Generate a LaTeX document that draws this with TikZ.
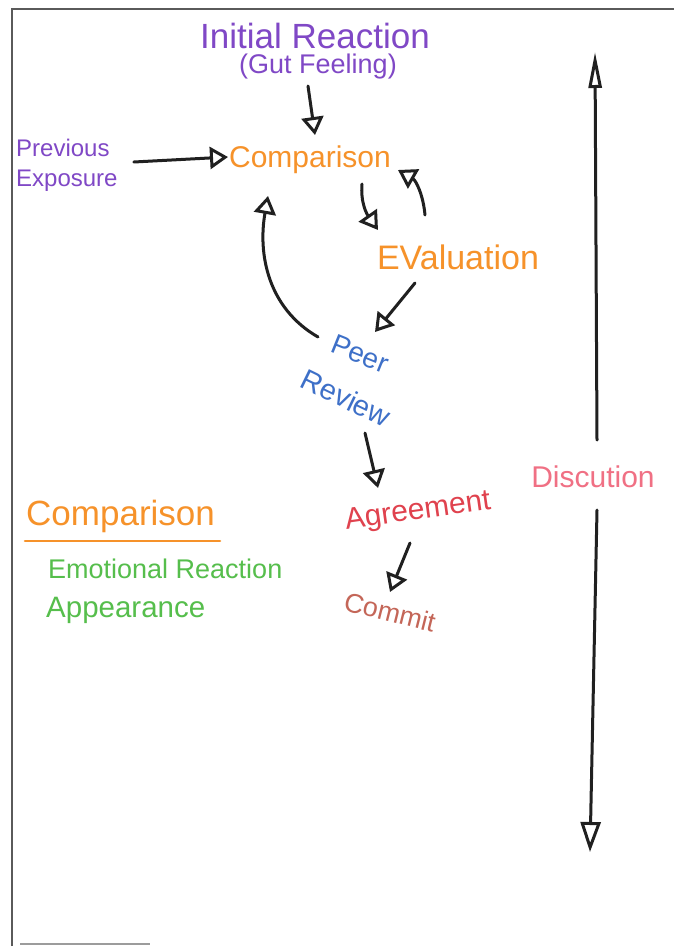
\documentclass[tikz,border=0pt]{standalone}
\usepackage{fontspec}
\setmainfont{Liberation Sans}
\usetikzlibrary{arrows.meta,calc}
\definecolor{inkc}{RGB}{32,32,32}
\definecolor{purplec}{RGB}{128,72,198}
\definecolor{orangec}{RGB}{246,146,42}
\definecolor{bluec}{RGB}{62,112,200}
\definecolor{redc}{RGB}{224,66,78}
\definecolor{brownc}{RGB}{196,102,88}
\definecolor{pinkc}{RGB}{240,112,132}
\definecolor{greenc}{RGB}{86,190,76}
\definecolor{framec}{RGB}{90,90,90}
\newcommand{\fsz}[2]{\fontsize{#1}{#2}\selectfont}
\begin{document}
\begin{tikzpicture}[x=1pt,y=-1pt,
  ink/.style={draw=inkc,line width=3pt,line cap=round,line join=round},
  tipped/.style={ink,-{Triangle[open,length=18pt,width=22pt]}},
  lbl/.style={inner sep=0pt,align=center},
]
\useasboundingbox (0,0) rectangle (674,948);
\fill[white] (0,0) rectangle (674,948);
% sheet edges
\draw[framec,line width=1.2pt] (12,946) -- (12,9) -- (674,9);
\draw[framec!60,line width=1.2pt] (20,944) -- (150,944);

% labels
\node[lbl,text=purplec,font=\fsz{35}{38}] (init) at (315,36) {Initial Reaction};
\node[lbl,text=purplec,font=\fsz{27}{30}] (gut) at (318,67) {(Gut Feeling)};
\node[lbl,text=purplec,align=left,anchor=west,font=\fsz{24}{30}] (prev) at (16,165)
  {Previous\\Exposure};
\node[lbl,text=orangec,font=\fsz{30}{32}] (cmp) at (310,160) {Comparison};
\node[lbl,text=orangec,font=\fsz{34}{36}] (eval) at (458,257) {EValuation};
\node[lbl,text=bluec,rotate=-22,font=\fsz{28}{30}] (peer) at (360,354) {Peer};
\node[lbl,text=bluec,rotate=-26,font=\fsz{29}{30}] (review) at (346,398) {Review};
\node[lbl,text=redc,font=\fsz{30}{32},rotate=8] (agr) at (418,512) {Agreement};
\node[lbl,text=brownc,font=\fsz{27}{30},rotate=-14] (com) at (390,612) {Commit};
\node[lbl,text=pinkc,font=\fsz{30}{32}] (disc) at (593,477) {Discution};

% key in the lower left
\node[lbl,text=orangec,font=\fsz{35}{38},anchor=west] (keyhead) at (26,516) {Comparison};
\draw[orangec,line width=2.6pt,line cap=round] (25,541) -- (220,541);
\node[lbl,text=greenc,font=\fsz{27}{30},anchor=west] (keyemo) at (48,569) {Emotional Reaction};
\node[lbl,text=greenc,font=\fsz{29.5}{32},anchor=west] (keyapp) at (46,610) {Appearance};

% ends of the discussion axis
\coordinate (axtop) at (595,52);
\coordinate (axbot) at (590,852);

% connectors
\draw[tipped] ($(gut)+(-10,19)$) -- ($(cmp)+(5,-25)$);
\draw[tipped] ($(prev.east)+(16,-3)$) -- ($(cmp)+(-82,-3)$);
\draw[tipped] ($(cmp)+(52,24)$) to[out=-95,in=125] ($(eval)+(-80,-27)$);
\draw[tipped] ($(eval)+(-33,-42)$) to[out=95,in=-30] ($(cmp)+(88,10)$);
\draw[tipped] ($(eval)+(-43,26)$) -- ($(peer)+(15,-22)$);
\draw[tipped] ($(peer)+(-42,-17)$) to[out=150,in=-100] ($(cmp)+(-42,36)$);
\draw[tipped] ($(review)+(19,35)$) -- ($(agr)+(-40,-24)$);
\draw[tipped] ($(agr)+(-8,31)$) -- ($(com)+(0,-20)$);
\draw[ink,-{Triangle[open,length=36pt,width=13pt]}] ($(disc)+(4,-37)$) -- (axtop);
\draw[ink,-{Triangle[open,length=30pt,width=20pt]}] ($(disc)+(4,33)$) -- (axbot);
\end{tikzpicture}
\end{document}
